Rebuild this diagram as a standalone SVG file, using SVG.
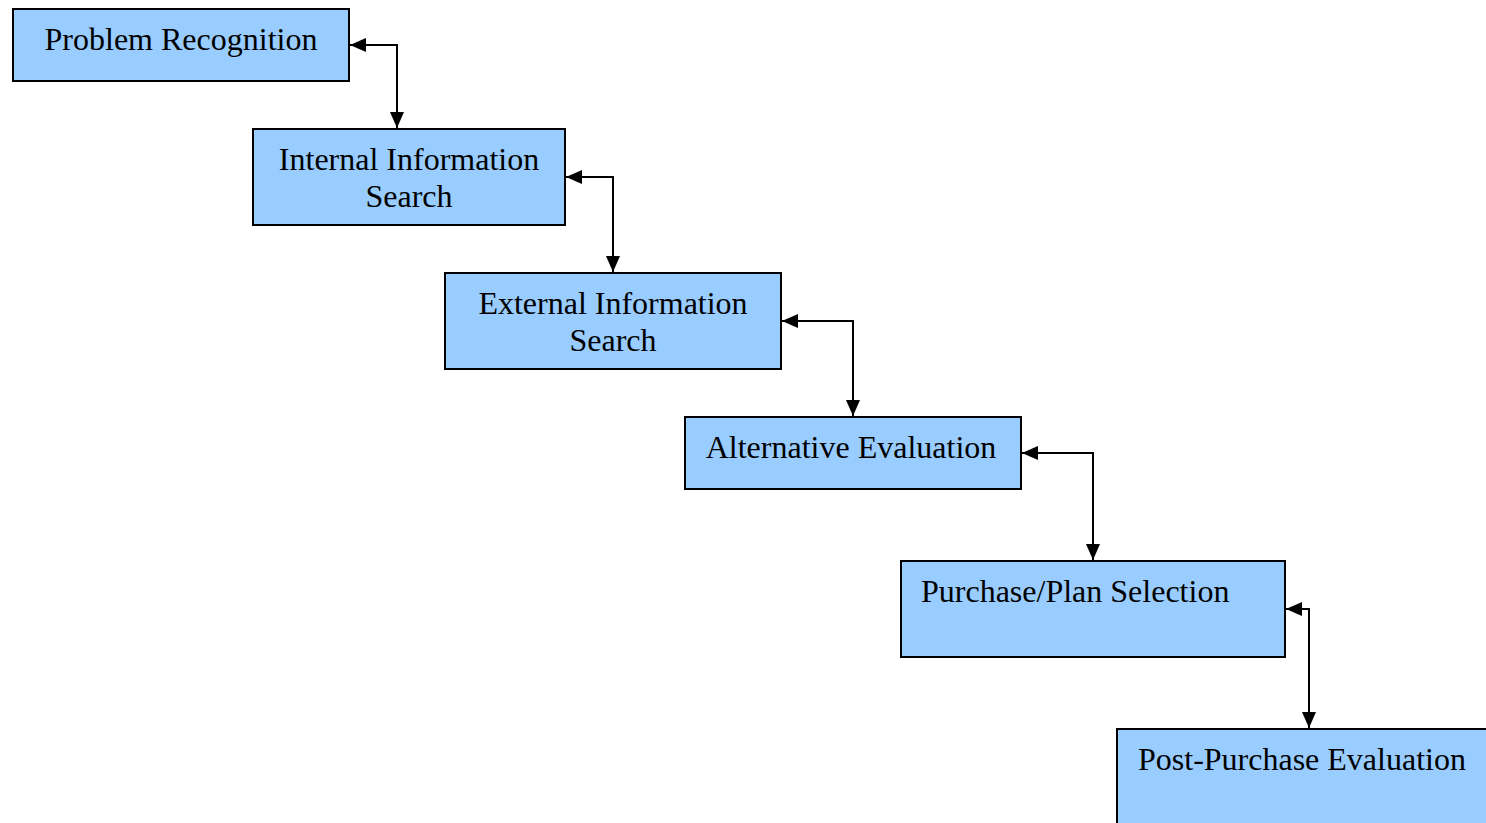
<svg xmlns="http://www.w3.org/2000/svg" width="1486" height="823" viewBox="0 0 1486 823">
<style>
.box{fill:#99CCFF;stroke:#000;stroke-width:2}
.t{font-family:"Liberation Serif","Times New Roman",serif;font-size:32px;fill:#000}
.c{text-anchor:middle}
.conn{fill:none;stroke:#000;stroke-width:2}
</style>
<defs>
<marker id="ah" viewBox="0 0 16 14" refX="16" refY="7" markerWidth="16" markerHeight="14" markerUnits="userSpaceOnUse" orient="auto-start-reverse">
<path d="M0,0 L16,7 L0,14 z" fill="#000"/>
</marker>
</defs>
<rect width="1486" height="823" fill="#fff"/>
<g id="connectors">
<path class="conn" d="M350,45 H397 V128" marker-start="url(#ah)" marker-end="url(#ah)"/>
<path class="conn" d="M566,177 H613 V272" marker-start="url(#ah)" marker-end="url(#ah)"/>
<path class="conn" d="M782,321 H853 V416" marker-start="url(#ah)" marker-end="url(#ah)"/>
<path class="conn" d="M1022,453 H1093 V560" marker-start="url(#ah)" marker-end="url(#ah)"/>
<path class="conn" d="M1286,609 H1309 V728" marker-start="url(#ah)" marker-end="url(#ah)"/>
</g>
<g id="n1"><rect class="box" x="13" y="9" width="336" height="72"/><text class="t c" x="181" y="50">Problem Recognition</text></g>
<g id="n2"><rect class="box" x="253" y="129" width="312" height="96"/><text class="t c" x="409" y="170">Internal Information</text><text class="t c" x="409" y="207">Search</text></g>
<g id="n3"><rect class="box" x="445" y="273" width="336" height="96"/><text class="t c" x="613" y="314">External Information</text><text class="t c" x="613" y="351">Search</text></g>
<g id="n4"><rect class="box" x="685" y="417" width="336" height="72"/><text class="t c" x="851" y="458">Alternative Evaluation</text></g>
<g id="n5"><rect class="box" x="901" y="561" width="384" height="96"/><text class="t" x="921" y="602">Purchase/Plan Selection</text></g>
<g id="n6"><rect class="box" x="1117" y="729" width="384" height="110"/><text class="t" x="1138" y="770">Post-Purchase Evaluation</text></g>
</svg>
